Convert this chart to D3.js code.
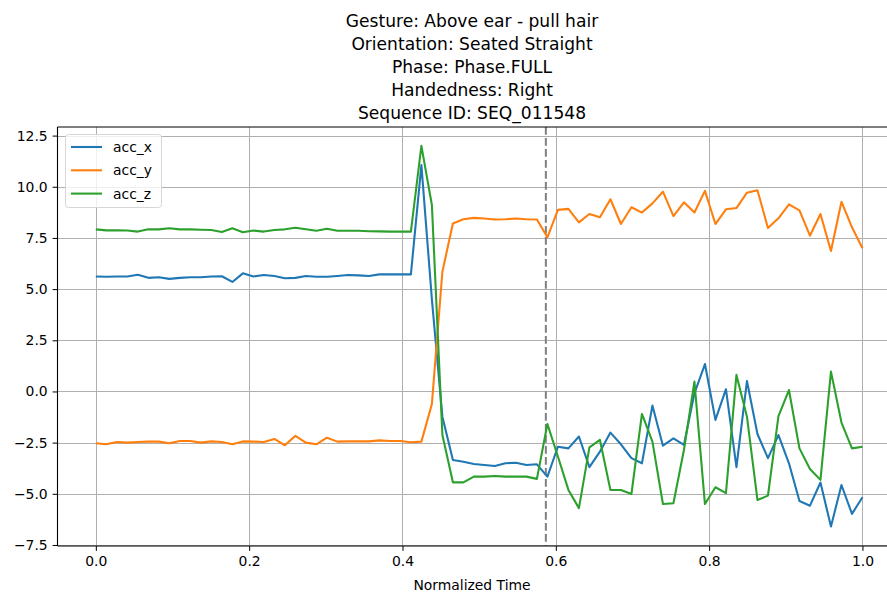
<!DOCTYPE html>
<html>
<head>
<meta charset="utf-8">
<script src="https://cdn.jsdelivr.net/npm/d3@7"></script>
<style>
  body { margin: 0; background: #fff; }
  svg { display: block; font-family: "DejaVu Sans", sans-serif; }
</style>
</head>
<body>
<svg width="887" height="593"></svg>
<script>
var titleLines = [
  'Gesture: Above ear - pull hair',
  'Orientation: Seated Straight',
  'Phase: Phase.FULL',
  'Handedness: Right',
  'Sequence ID: SEQ_011548'
];

var seriesNames = ['acc_x', 'acc_y', 'acc_z'];
var seriesColors = ['#1f77b4', '#ff7f0e', '#2ca02c'];

var accX = [5.62, 5.6, 5.62, 5.62, 5.7, 5.55, 5.58, 5.5, 5.55, 5.58,
  5.58, 5.62, 5.63, 5.35, 5.77, 5.62, 5.69, 5.64, 5.53, 5.55,
  5.64, 5.6, 5.6, 5.64, 5.69, 5.67, 5.64, 5.72, 5.72, 5.72,
  5.72, 11.06, 4.5, -1.23, -3.35, -3.43, -3.54, -3.59, -3.64, -3.51,
  -3.48, -3.59, -3.56, -4.16, -2.7, -2.78, -2.2, -3.7, -2.94, -2.01,
  -2.58, -3.26, -3.51, -0.69, -2.65, -2.29, -2.61, -0.09, 1.34, -1.39,
  0.11, -3.7, 0.51, -2.08, -3.26, -2.13, -3.51, -5.35, -5.58, -4.45,
  -6.6, -4.57, -5.98, -5.17];

var accY = [-2.53, -2.58, -2.47, -2.5, -2.47, -2.45, -2.45, -2.53, -2.42, -2.42,
  -2.5, -2.44, -2.47, -2.58, -2.44, -2.45, -2.47, -2.32, -2.63, -2.17,
  -2.5, -2.58, -2.26, -2.45, -2.44, -2.44, -2.44, -2.39, -2.42, -2.42,
  -2.48, -2.45, -0.61, 5.85, 8.21, 8.41, 8.48, 8.45, 8.4, 8.41,
  8.45, 8.41, 8.4, 7.53, 8.87, 8.92, 8.26, 8.67, 8.51, 9.39,
  8.18, 9.0, 8.74, 9.19, 9.76, 8.57, 9.24, 8.74, 9.8, 8.18,
  8.9, 8.96, 9.71, 9.83, 7.99, 8.46, 9.14, 8.85, 7.61, 8.67,
  6.86, 9.27, 8.02, 7.0];

var accZ = [7.92, 7.87, 7.87, 7.86, 7.81, 7.92, 7.92, 7.97, 7.92, 7.92,
  7.9, 7.89, 7.79, 7.97, 7.78, 7.86, 7.81, 7.89, 7.92, 8.0,
  7.92, 7.85, 7.95, 7.85, 7.85, 7.85, 7.83, 7.82, 7.81, 7.81,
  7.81, 12.0, 9.11, -2.13, -4.44, -4.44, -4.16, -4.16, -4.13, -4.16,
  -4.16, -4.16, -4.27, -1.59, -3.18, -4.81, -5.7, -2.73, -2.37, -4.81,
  -4.81, -5.01, -1.1, -2.45, -5.5, -5.46, -2.86, 0.48, -5.5, -4.68,
  -4.97, 0.81, -1.23, -5.3, -5.09, -1.2, 0.07, -2.78, -3.79, -4.32,
  0.97, -1.52, -2.78, -2.7];

var xTicks = [0, 0.2, 0.4, 0.6, 0.8, 1.0];
var yTicks = [-7.5, -5, -2.5, 0, 2.5, 5, 7.5, 10, 12.5];
var phaseSplit = 0.587;

var allSeries = [accX, accY, accZ];

var svg = d3.select('svg');
var plotLeft = 57.5, plotRight = 887, plotTop = 127, plotBottom = 546;

var x = d3.scaleLinear().domain([-0.05, 1.032]).range([plotLeft, plotRight]);
var y = d3.scaleLinear().domain([-7.55, 12.92]).range([plotBottom, plotTop]);

var fmt = function(v) {
  return d3.format('.1f')(v).replace('-', '\u2212');
};

// grid
svg.append('g')
  .selectAll('line')
  .data(xTicks)
  .enter()
  .append('line')
  .attr('x1', function(d) { return Math.round(x(d)) + 0.5; })
  .attr('x2', function(d) { return Math.round(x(d)) + 0.5; })
  .attr('y1', plotTop)
  .attr('y2', plotBottom)
  .attr('stroke', '#b0b0b0')
  .attr('stroke-width', 1);

svg.append('g')
  .selectAll('line')
  .data(yTicks)
  .enter()
  .append('line')
  .attr('x1', plotLeft)
  .attr('x2', plotRight)
  .attr('y1', function(d) { return Math.round(y(d)) + 0.5; })
  .attr('y2', function(d) { return Math.round(y(d)) + 0.5; })
  .attr('stroke', '#b0b0b0')
  .attr('stroke-width', 1);

// phase line
svg.append('line')
  .attr('x1', x(phaseSplit))
  .attr('x2', x(phaseSplit))
  .attr('y1', plotTop)
  .attr('y2', plotBottom)
  .attr('stroke', '#808080')
  .attr('stroke-width', 2)
  .attr('stroke-dasharray', '7.7,3.3');

// series
var line = d3.line()
  .x(function(d, i, arr) { return x(i / (arr.length - 1)); })
  .y(function(d) { return y(d); });

allSeries.forEach(function(values, k) {
  svg.append('path')
    .datum(values)
    .attr('fill', 'none')
    .attr('stroke', seriesColors[k])
    .attr('stroke-width', 2.08)
    .attr('stroke-linejoin', 'round')
    .attr('d', line);
});

// axes
var xAxis = svg.append('g')
  .attr('transform', 'translate(0,' + plotBottom + ')')
  .call(d3.axisBottom(x).tickValues(xTicks).tickFormat(d3.format('.1f')).tickSize(4.9).tickPadding(4.9));

var yAxis = svg.append('g')
  .attr('transform', 'translate(' + plotLeft + ',0)')
  .call(d3.axisLeft(y).tickValues(yTicks).tickFormat(fmt).tickSize(4.9).tickPadding(4.9));

[xAxis, yAxis].forEach(function(ax) {
  ax.select('.domain').remove();
  ax.selectAll('line').attr('stroke', '#000').attr('stroke-width', 1);
  ax.selectAll('text')
    .attr('fill', '#000')
    .style('font-size', '13.9px')
    .style('font-family', '"DejaVu Sans", sans-serif');
});

// spines
svg.append('line').attr('x1', plotLeft).attr('x2', plotLeft).attr('y1', plotTop).attr('y2', plotBottom)
  .attr('stroke', '#000').attr('stroke-width', 1.1);
svg.append('line').attr('x1', plotLeft).attr('x2', plotRight).attr('y1', plotTop).attr('y2', plotTop)
  .attr('stroke', '#000').attr('stroke-width', 1.1);
svg.append('line').attr('x1', plotLeft).attr('x2', plotRight).attr('y1', plotBottom).attr('y2', plotBottom)
  .attr('stroke', '#000').attr('stroke-width', 1.1);

// title
var cx = 472;
svg.append('g')
  .selectAll('text')
  .data(titleLines)
  .enter()
  .append('text')
  .attr('x', cx)
  .attr('y', function(d, i) { return 27 + i * 23; })
  .attr('text-anchor', 'middle')
  .style('font-size', '17.1px')
  .text(function(d) { return d; });

svg.append('text')
  .attr('x', cx)
  .attr('y', 590)
  .attr('text-anchor', 'middle')
  .style('font-size', '13.9px')
  .text('Normalized Time');

// legend
var legend = svg.append('g');
legend.append('rect')
  .attr('x', 65.5)
  .attr('y', 134.5)
  .attr('width', 96)
  .attr('height', 73)
  .attr('rx', 3)
  .attr('fill', 'rgba(255,255,255,0.8)')
  .attr('stroke', '#d6d6d6');

seriesNames.forEach(function(name, k) {
  var ly = 147 + k * 23.3;
  legend.append('line')
    .attr('x1', 71)
    .attr('x2', 102)
    .attr('y1', ly)
    .attr('y2', ly)
    .attr('stroke', seriesColors[k])
    .attr('stroke-width', 2.08);
  legend.append('text')
    .attr('x', 113)
    .attr('y', ly + 5)
    .style('font-size', '13.9px')
    .text(name);
});
</script>
</body>
</html>
